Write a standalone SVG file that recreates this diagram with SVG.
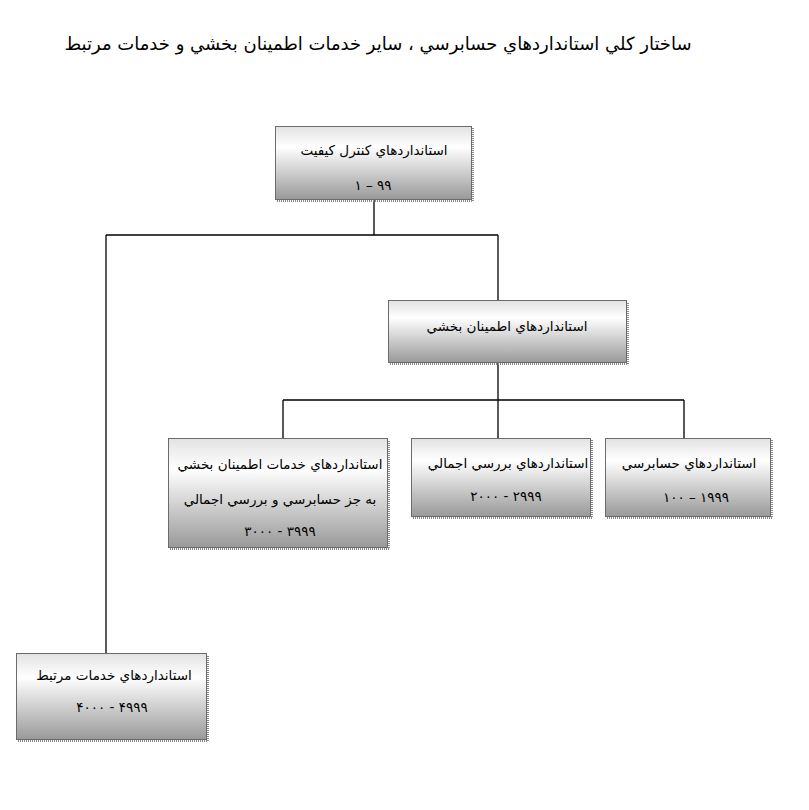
<svg xmlns="http://www.w3.org/2000/svg" width="809" height="810" viewBox="0 0 809 810">
<defs>
<linearGradient id="g" x1="0" y1="0" x2="0" y2="1">
<stop offset="0" stop-color="#e2e2e2"/>
<stop offset="0.28" stop-color="#ffffff"/>
<stop offset="1" stop-color="#999999"/>
</linearGradient>
<style>
.box{fill:url(#g);stroke:#6b6b6b;stroke-width:1}
.sh{fill:none;stroke:#8a8a8a;stroke-width:2;stroke-dasharray:1 1}
.t{font-family:"DejaVu Sans",sans-serif;font-size:13.5px;fill:#000;text-anchor:middle}
.n{font-family:"DejaVu Sans",sans-serif;font-size:13.5px;fill:#000;text-anchor:middle}
.title{font-family:"DejaVu Sans",sans-serif;font-size:18px;fill:#000;text-anchor:middle}
.c{fill:none;stroke:#000;stroke-width:1.3}
</style>
</defs>
<rect width="809" height="810" fill="#fff"/>
<text class="title" x="378" y="50" direction="rtl">ساختار كلي استانداردهاي حسابرسي ، ساير خدمات اطمينان بخشي و خدمات مرتبط</text>
<g id="connectors">
<path class="c" d="M374 200V235M106 235H498M106 235V653M498 235V300M498 363V400M283 400H684M283 400V438M498 400V438M684 400V438"/>
</g>
<g id="n1">
<path class="sh" d="M277 201H473V128"/>
<rect class="box" x="275.5" y="126.5" width="196" height="73"/>
<text class="t" x="374" y="155" direction="rtl">استانداردهاي كنترل كيفيت</text>
<text class="n" x="373" y="190" direction="rtl">۹۹ – ۱</text>
</g>
<g id="n2">
<path class="sh" d="M390 364H628V302"/>
<rect class="box" x="388.5" y="300.5" width="238" height="62"/>
<text class="t" x="507" y="331" direction="rtl">استانداردهاي اطمينان بخشي</text>
</g>
<g id="n3">
<path class="sh" d="M170 549H389V440"/>
<rect class="box" x="168.5" y="438.5" width="219" height="109"/>
<text class="t" x="280" y="469" direction="rtl">استانداردهاي خدمات اطمينان بخشي</text>
<text class="t" x="280" y="504" direction="rtl">به جز حسابرسي و بررسي اجمالي</text>
<text class="n" x="280" y="536" direction="rtl">۳۹۹۹ - ۳۰۰۰</text>
</g>
<g id="n4">
<path class="sh" d="M413 518H592V440"/>
<rect class="box" x="411.5" y="438.5" width="179" height="78"/>
<text class="t" x="508" y="468" direction="rtl">استانداردهاي بررسي اجمالي</text>
<text class="n" x="506" y="501" direction="rtl">۲۹۹۹ - ۲۰۰۰</text>
</g>
<g id="n5">
<path class="sh" d="M607 518H772V440"/>
<rect class="box" x="605.5" y="438.5" width="165" height="78"/>
<text class="t" x="689" y="468" direction="rtl">استانداردهاي حسابرسي</text>
<text class="n" x="696" y="502" direction="rtl">۱۹۹۹ – ۱۰۰</text>
</g>
<g id="n6">
<path class="sh" d="M18 741H208V655"/>
<rect class="box" x="16.5" y="653.5" width="190" height="86"/>
<text class="t" x="114" y="680" direction="rtl">استانداردهاي خدمات مرتبط</text>
<text class="n" x="112" y="712" direction="rtl">۴۹۹۹ - ۴۰۰۰</text>
</g>
</svg>
